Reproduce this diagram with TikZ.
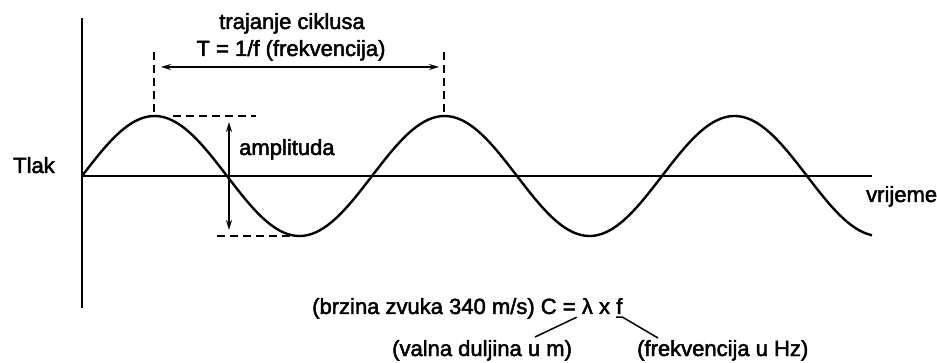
\documentclass[tikz,border=0pt]{standalone}
\usepackage{fontspec}
\setmainfont{Liberation Sans}[FakeBold=2.2]
\usetikzlibrary{arrows.meta,positioning}

\begin{document}
\begin{tikzpicture}[
    x=1pt, y=-1pt,
    every node/.style={font=\fontsize{22}{26}\selectfont, inner sep=0pt},
    axis/.style={line width=1.6pt},
    wave/.style={line width=2.4pt},
    guide/.style={line width=1.4pt, dash pattern=on 8pt off 5pt},
    dimarrow/.style={line width=1.4pt, {Stealth[length=10pt,width=6pt]}-{Stealth[length=10pt,width=6pt]}},
    pointer/.style={line width=1.5pt}
]
\useasboundingbox (0,0) rectangle (937,363);

\coordinate (origin) at (82,176);
\coordinate (ytop) at (82,18);
\coordinate (ybot) at (82,308);
\coordinate (xend) at (872,176);
\coordinate (peak1) at (154,116);
\coordinate (peak2) at (444,116);

\draw[axis] (ytop) -- (ybot);
\draw[axis] (origin) -- (xend);
\draw[wave] plot[domain=0:790, samples=240, smooth] ({82+\x}, {176-60*sin(1.24138*\x)});

\draw[guide] (peak1) ++(0,-4) -- ++(0,-60) coordinate (mark1);
\draw[guide] (peak2) ++(0,-4) -- ++(0,-60) coordinate (mark2);
\draw[dimarrow] ([xshift=7pt,yshift=-15pt]mark1) -- ([xshift=-5pt,yshift=-15pt]mark2);

\draw[guide] (173,116) -- (256,116);
\draw[guide] (217,236) -- (291,236);
\draw[dimarrow] (229,122) -- (229,230);

\node[anchor=base] (cycle) at (292,29) {trajanje ciklusa};
\node[anchor=base] (period) at (291,56) {T = 1/f (frekvencija)};
\node[anchor=base west] (amp) at (239,155) {amplituda};
\node[anchor=base west] (pressure) at (13,173) {Tlak};
\node[anchor=base west] (time) at (866,202) {vrijeme};

\node[anchor=base west] (speed) at (312,314) {(brzina zvuka 340 m/s) C =};
\node[anchor=base west, xshift=5.8pt] (lam) at (speed.base east) {λ};
\node[anchor=base west, xshift=5.8pt] (times) at (lam.base east) {x};
\node[anchor=base west, xshift=5.8pt] (fsym) at (times.base east) {f};

\node[anchor=base west] (wavelen) at (392,356) {(valna duljina u m)};
\node[anchor=base west] (freq) at (637,356) {(frekvencija u Hz)};

\coordinate (lamtip) at ([xshift=-5pt,yshift=-3pt]lam.south west);
\coordinate (wavetip) at ([xshift=143pt,yshift=19pt]wavelen.base west);
\coordinate (freqtip) at ([xshift=21pt,yshift=18pt]freq.base west);
\draw[pointer] (lamtip) -- (wavetip);
\draw[pointer] ([yshift=-3pt]fsym.south west) -- ([yshift=-3pt]fsym.south east) -- (freqtip);

\end{tikzpicture}
\end{document}
